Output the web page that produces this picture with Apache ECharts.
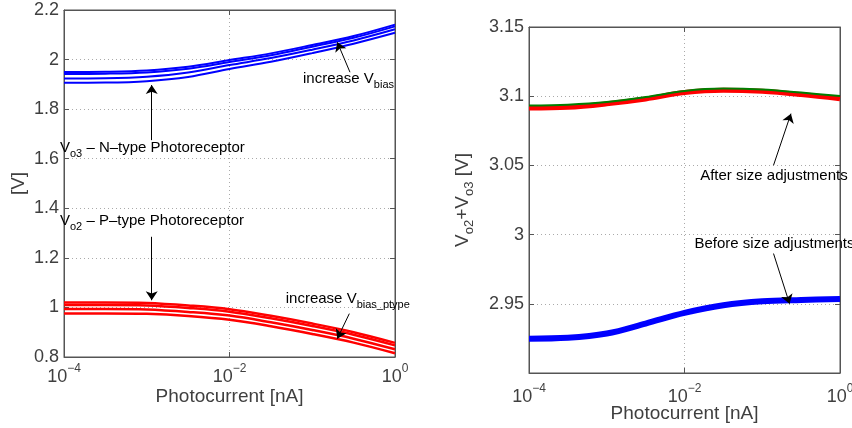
<!DOCTYPE html>
<html><head><meta charset="utf-8">
<script src="https://cdn.jsdelivr.net/npm/echarts@6/dist/echarts.min.js"></script>
<style>html,body{margin:0;padding:0;background:#fff}#c{width:852px;height:428px}</style>
</head><body><div id="c"></div>
<script>
// Photocurrent samples [nA]
const photocurrent = [1e-4, 3.162e-4, 1e-3, 3.162e-3, 1e-2, 3.162e-2, 1e-1, 3.162e-1, 1];
// Left panel: Vo3 (N-type) for increasing Vbias
const vo3_a = [1.950, 1.951, 1.956, 1.971, 1.998, 2.025, 2.059, 2.095, 2.141];
const vo3_b = [1.942, 1.943, 1.948, 1.963, 1.990, 2.017, 2.052, 2.088, 2.134];
const vo3_c = [1.924, 1.925, 1.931, 1.948, 1.978, 2.006, 2.040, 2.077, 2.122];
const vo3_d = [1.906, 1.907, 1.913, 1.930, 1.962, 1.991, 2.026, 2.064, 2.108];
// Left panel: Vo2 (P-type) for increasing Vbias_ptype
const vo2_a = [1.020, 1.020, 1.018, 1.008, 0.993, 0.966, 0.935, 0.900, 0.857];
const vo2_b = [1.010, 1.010, 1.008, 0.998, 0.983, 0.956, 0.925, 0.890, 0.847];
const vo2_c = [0.994, 0.994, 0.992, 0.982, 0.967, 0.940, 0.909, 0.874, 0.831];
const vo2_d = [0.976, 0.976, 0.974, 0.965, 0.950, 0.924, 0.893, 0.858, 0.815];
// Right panel: Vo2+Vo3
const sumAfterRed   = [3.0915, 3.0920, 3.0945, 3.0980, 3.1026, 3.1043, 3.1035, 3.1012, 3.0982];
const sumAfterGreen = [3.0932, 3.0939, 3.0958, 3.0994, 3.1038, 3.1055, 3.1048, 3.1026, 3.1001];
const sumBefore     = [2.9248, 2.9254, 2.9285, 2.9357, 2.9434, 2.9489, 2.9518, 2.9528, 2.9535];
// Axis settings
const leftYTicks = {min: 0.8, max: 2.2, interval: 0.2};
const rightYTicks = {min: 2.9, max: 3.15, interval: 0.05};
const xRange = {min: 1e-4, max: 1, decadeStep: 2};

const FONT = "'Liberation Sans', Arial, Helvetica, sans-serif";
const AX = '#3f3f3f';
const pair = arr => photocurrent.map((x, i) => [x, arr[i]]);

const tickRich = {
  b: {fontSize: 18, lineHeight: 18, color: AX, fontFamily: FONT, verticalAlign: 'middle'},
  e: {fontSize: 12, lineHeight: 12, color: AX, fontFamily: FONT, verticalAlign: 'middle', padding: [0, 0, 16, 0]}
};
function pow10Label(v) {
  const n = Math.round(Math.log10(v));
  if (n % xRange.decadeStep !== 0) return '';
  return '{b|10}{e|' + (n < 0 ? '\u2212' + (-n) : String(n)) + '}';
}
const annRich = {
  n: {fontSize: 15, lineHeight: 17, color: '#000', fontFamily: FONT, verticalAlign: 'middle'},
  s: {fontSize: 11, lineHeight: 11, color: '#000', fontFamily: FONT, verticalAlign: 'middle', padding: [12, 0, 0, 0]}
};
const nameRich = {
  n: {fontSize: 19, lineHeight: 19, color: AX, fontFamily: FONT, verticalAlign: 'middle'},
  s: {fontSize: 13, lineHeight: 13, color: AX, fontFamily: FONT, verticalAlign: 'middle', padding: [14, 0, 0, 0]}
};
const evenDecade = (idx, v) => Math.round(Math.log10(v)) % xRange.decadeStep === 0;

function xAxisMain(gi, gap, margin) {
  return {
    type: 'log', logBase: 10, gridIndex: gi, min: xRange.min, max: xRange.max, interval: xRange.decadeStep,
    name: 'Photocurrent [nA]', nameLocation: 'middle', nameGap: gap, nameMoveOverlap: false,
    nameTextStyle: {fontSize: 19, color: AX, fontFamily: FONT},
    axisLine: {show: true, lineStyle: {color: '#555', width: 1}},
    axisTick: {show: true, inside: true, length: 5, interval: evenDecade, lineStyle: {color: '#555'}},
    minorTick: {show: false},
    axisLabel: {margin: margin, formatter: pow10Label, rich: tickRich},
    splitLine: {show: true, interval: evenDecade, lineStyle: {color: '#aaa', type: [1, 3], width: 1}}
  };
}
function xAxisMirror(gi) {
  return {
    type: 'log', logBase: 10, gridIndex: gi, position: 'top', min: xRange.min, max: xRange.max, interval: xRange.decadeStep,
    axisLine: {show: true, lineStyle: {color: '#555'}},
    axisTick: {show: true, inside: true, length: 5, interval: evenDecade, lineStyle: {color: '#555'}},
    axisLabel: {show: false}, splitLine: {show: false}
  };
}
function yAxisMain(gi, t, name, gap, fmt) {
  return {
    type: 'value', gridIndex: gi, min: t.min, max: t.max, interval: t.interval,
    name: name, nameLocation: 'middle', nameGap: gap, nameMoveOverlap: false,
    nameTextStyle: {fontSize: 19, color: AX, fontFamily: FONT, rich: nameRich},
    axisLine: {show: true, lineStyle: {color: '#555', width: 1}},
    axisTick: {show: true, inside: true, length: 5, lineStyle: {color: '#555'}},
    axisLabel: {margin: 5, fontSize: 18, color: AX, fontFamily: FONT, formatter: fmt},
    splitLine: {show: true, lineStyle: {color: '#aaa', type: [1, 3], width: 1}}
  };
}
function yAxisMirror(gi, t) {
  return {
    type: 'value', gridIndex: gi, position: 'right', min: t.min, max: t.max, interval: t.interval,
    axisLine: {show: true, lineStyle: {color: '#555'}},
    axisTick: {show: true, inside: true, length: 5, lineStyle: {color: '#555'}},
    axisLabel: {show: false}, splitLine: {show: false}
  };
}

function lineSeries(xi, yi, arr, color, width, z) {
  return {
    type: 'line', xAxisIndex: xi, yAxisIndex: yi, data: pair(arr), smooth: 0.35,
    showSymbol: false, symbol: 'none', z: z || 2,
    lineStyle: {color: color, width: width}
  };
}
function textMark(coord, text, offset) {
  return {
    coord: coord, symbol: 'circle', symbolSize: 0,
    label: {show: true, position: 'right', distance: 0, offset: offset || [0, 0],
      formatter: text, rich: annRich}
  };
}
const arrowStyle = {
  symbol: ['none', 'arrow'], symbolSize: 9, silent: true, animation: false,
  lineStyle: {color: '#000', width: 1, type: 'solid'}, label: {show: false}, emphasis: {disabled: true}
};

const leftFmt = v => String(Math.round(v * 10) / 10);
const rightFmt = v => (Math.abs(v - 2.9) < 1e-6 ? '' : String(Math.round(v * 100) / 100));

const s0 = lineSeries(0, 0, vo3_a, '#0000ff', 2);
s0.markPoint = {silent: true, animation: false, data: [
  textMark([1e-4, 1.643], '{n|V}{s|o3}{n| \u2013 N\u2013type Photoreceptor}', [-4, 0]),
  textMark([1e-4, 1.348], '{n|V}{s|o2}{n| \u2013 P\u2013type Photoreceptor}', [-4, 0]),
  textMark([Math.pow(10, -1.112), 1.921], '{n|increase V}{s|bias}'),
  textMark([Math.pow(10, -1.32), 1.033], '{n|increase V}{s|bias_ptype}')
]};
s0.markLine = Object.assign({}, arrowStyle, {data: [
  [{coord: [Math.pow(10, -2.94), 1.675]}, {coord: [Math.pow(10, -2.94), 1.897]}],
  [{coord: [Math.pow(10, -2.94), 1.285]}, {coord: [Math.pow(10, -2.94), 1.029]}],
  [{coord: [Math.pow(10, -0.544), 1.949]}, {coord: [Math.pow(10, -0.697), 2.070]}],
  [{coord: [Math.pow(10, -0.552), 0.975]}, {coord: [Math.pow(10, -0.697), 0.874]}]
]});

const sR = lineSeries(2, 2, sumBefore, '#0000ff', 6);
sR.markPoint = {silent: true, animation: false, data: [
  textMark([Math.pow(10, -1.799), 3.0426], '{n|After size adjustments}'),
  textMark([Math.pow(10, -1.872), 2.9935], '{n|Before size adjustments}')
]};
sR.markLine = Object.assign({}, arrowStyle, {data: [
  [{coord: [Math.pow(10, -0.855), 3.0501]}, {coord: [Math.pow(10, -0.631), 3.0874]}],
  [{coord: [Math.pow(10, -0.855), 2.9863]}, {coord: [Math.pow(10, -0.649), 2.9501]}]
]});

const option = {
  animation: false,
  backgroundColor: '#fff',
  textStyle: {fontFamily: FONT},
  grid: [
    {left: 64, top: 10, width: 331, height: 347, show: true, borderColor: '#555', borderWidth: 1, backgroundColor: '#fff', containLabel: false, outerBoundsMode: 'none'},
    {left: 529, top: 27, width: 311, height: 346, show: true, borderColor: '#555', borderWidth: 1, backgroundColor: '#fff', containLabel: false, outerBoundsMode: 'none'}
  ],
  xAxis: [xAxisMain(0, 30, 11), xAxisMirror(0), xAxisMain(1, 31, 15), xAxisMirror(1)],
  yAxis: [
    yAxisMain(0, leftYTicks, '[V]', 36, leftFmt), yAxisMirror(0, leftYTicks),
    yAxisMain(1, rightYTicks, '{n|V}{s|o2}{n|+V}{s|o3}{n| [V]}', 57, rightFmt), yAxisMirror(1, rightYTicks)
  ],
  series: [
    s0,
    lineSeries(0, 0, vo3_b, '#0000ff', 2),
    lineSeries(0, 0, vo3_c, '#0000ff', 2),
    lineSeries(0, 0, vo3_d, '#0000ff', 2),
    lineSeries(0, 0, vo2_a, '#ff0000', 2.5),
    lineSeries(0, 0, vo2_b, '#ff0000', 2.5),
    lineSeries(0, 0, vo2_c, '#ff0000', 2.5),
    lineSeries(0, 0, vo2_d, '#ff0000', 2.5),
    sR,
    lineSeries(2, 2, sumAfterRed, '#ff0000', 5, 3),
    lineSeries(2, 2, sumAfterGreen, '#007f00', 2, 4)
  ]
};
const chart = echarts.init(document.getElementById('c'), null, {renderer: 'canvas'});
chart.setOption(option);
</script>
</body></html>
